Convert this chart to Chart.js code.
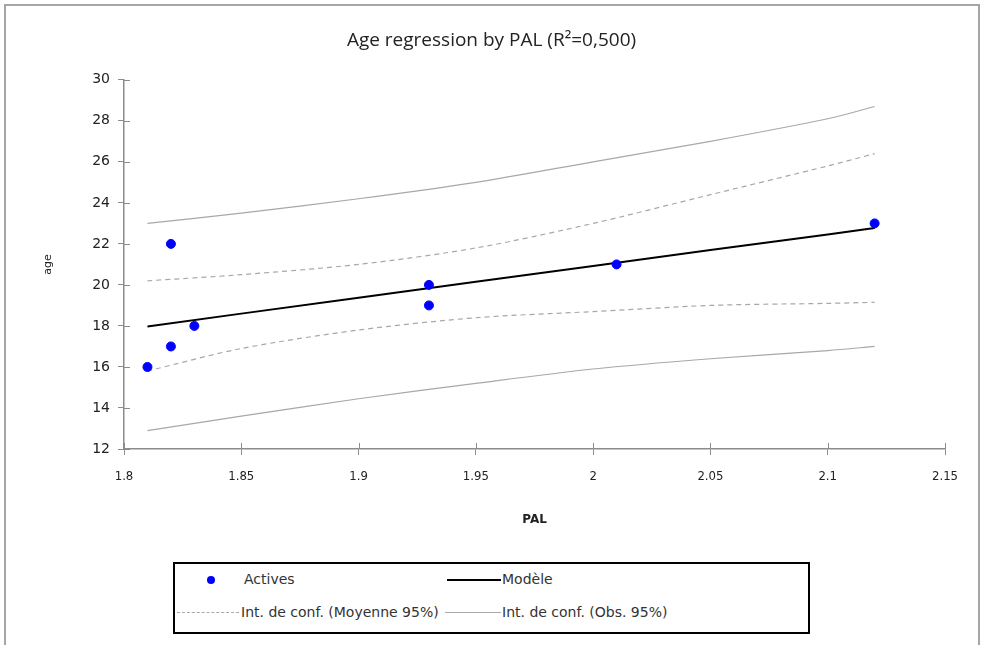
<!DOCTYPE html>
<html>
<head>
<meta charset="utf-8">
<script src="https://cdn.jsdelivr.net/npm/chart.js@4"></script>
<style>
html,body{margin:0;padding:0;background:#fff;overflow:hidden;}
#wrap{position:relative;width:984px;height:645px;}
#frame{position:absolute;left:4px;top:4px;width:972px;height:700px;border:2px solid #a6a6a6;border-bottom:none;}
#legend{position:absolute;left:173px;top:562px;width:633px;height:68px;border:2px solid #000;background:#fff;
  font-family:"DejaVu Sans",Verdana,sans-serif;font-size:14px;color:#333;}
.item{position:absolute;white-space:nowrap;line-height:16px;}
.sw{position:absolute;}
</style>
</head>
<body>
<div id="wrap">
<div id="frame"></div>
<canvas id="chart" width="984" height="645"></canvas>
<div id="legend">
  <div class="sw" style="left:32px;top:12px;width:8px;height:8px;border-radius:50%;background:#0000ff;"></div>
  <div class="item" style="left:69px;top:7px;">Actives</div>
  <div class="sw" style="left:272px;top:15px;width:54px;border-top:2px solid #000;"></div>
  <div class="item" style="left:327px;top:7px;">Modèle</div>
  <div class="sw" style="left:2px;top:48px;width:62px;border-top:1px dashed #aaa;"></div>
  <div class="item" style="left:66px;top:40px;">Int. de conf. (Moyenne 95%)</div>
  <div class="sw" style="left:270px;top:48px;width:56px;border-top:1px solid #aaa;"></div>
  <div class="item" style="left:327px;top:40px;">Int. de conf. (Obs. 95%)</div>
</div>
</div>
<script>
// observations
var pal=[1.81,1.82,1.82,1.83,1.93,1.93,2.01,2.12];
var age=[16,17,22,18,20,19,21,23];

// regression line + confidence bands
var curveX=[1.81,1.85,1.9,1.95,2.0,2.05,2.1,2.12];
var model=[17.97,18.6,19.37,20.15,20.92,21.7,22.46,22.77];
var meanHi=[20.2,20.5,21.0,21.8,23.0,24.4,25.8,26.4];
var meanLo=[15.8,16.9,17.8,18.4,18.7,19.0,19.1,19.15];
var obsHi=[23.0,23.5,24.2,25.0,26.0,27.0,28.1,28.7];
var obsLo=[12.9,13.6,14.45,15.2,15.9,16.4,16.8,17.0];

var xTicks=[1.8,1.85,1.9,1.95,2,2.05,2.1,2.15];

function pts(xs,ys){
    var out=[];
    for(var i=0;i<xs.length;i++){ out.push({x:xs[i],y:ys[i]}); }
    return out;
}

var axisGray='#8c8c8c';
var bandGray='#a8a8a8';

// tick marks that cross the axis line (inner half)
var innerTicks={
    id:'innerTicks',
    afterDraw:function(chart){
        var c=chart.ctx, xs=chart.scales.x, ys=chart.scales.y;
        c.save();
        c.strokeStyle=axisGray;
        c.lineWidth=1;
        c.beginPath();
        ys.ticks.forEach(function(t){
            var y=Math.round(ys.getPixelForValue(t.value))+0.5;
            c.moveTo(xs.left,y); c.lineTo(xs.left+6,y);
        });
        xs.ticks.forEach(function(t){
            var x=Math.round(xs.getPixelForValue(t.value))+0.5;
            c.moveTo(x,ys.bottom); c.lineTo(x,ys.bottom-6);
        });
        c.stroke();
        c.restore();
    }
};

var ctx=document.getElementById('chart').getContext('2d');
var myChart=new Chart(ctx,{
    type:'scatter',
    data:{
        datasets:[
            {label:'Actives',data:pts(pal,age),backgroundColor:'#0000ff',borderColor:'#0000ff',pointRadius:4.5,order:0},
            {label:'Modèle',type:'line',data:pts(curveX,model),borderColor:'#000',borderWidth:2,pointRadius:0,fill:false,order:1},
            {label:'Int. de conf. (Moyenne 95%)',type:'line',data:pts(curveX,meanHi),borderColor:bandGray,borderWidth:1.2,borderDash:[5,4],pointRadius:0,tension:0.3,fill:false,order:2},
            {label:'Int. de conf. (Moyenne 95%) low',type:'line',data:pts(curveX,meanLo),borderColor:bandGray,borderWidth:1.2,borderDash:[5,4],pointRadius:0,tension:0.3,fill:false,order:2},
            {label:'Int. de conf. (Obs. 95%)',type:'line',data:pts(curveX,obsHi),borderColor:bandGray,borderWidth:1.2,pointRadius:0,tension:0.3,fill:false,order:3},
            {label:'Int. de conf. (Obs. 95%) low',type:'line',data:pts(curveX,obsLo),borderColor:bandGray,borderWidth:1.2,pointRadius:0,tension:0.3,fill:false,order:3}
        ]
    },
    options:{
        responsive:false,
        animation:false,
        layout:{padding:{left:38,right:39,top:0,bottom:114}},
        plugins:{
            legend:{display:false},
            tooltip:{enabled:false},
            title:{display:true,text:'Age regression by PAL (R²=0,500)',color:'#222',
                font:{family:'"Open Sans","Noto Sans",sans-serif',size:19,weight:'normal'},
                padding:{top:29,bottom:28}}
        },
        scales:{
            x:{
                type:'linear',min:1.8,max:2.15,
                afterBuildTicks:function(s){ s.ticks=xTicks.map(function(v){return {value:v};}); },
                afterFit:function(s){ s.height=82; },
                border:{color:axisGray,width:1.5},
                grid:{display:true,drawOnChartArea:false,color:axisGray,tickLength:6},
                ticks:{color:'#222',padding:14,maxRotation:0,
                    font:{family:'"DejaVu Sans Condensed","DejaVu Sans",sans-serif',size:13},
                    callback:function(v){return String(v);}},
                title:{display:true,text:'PAL',color:'#222',padding:{top:22},
                    font:{family:'"DejaVu Sans",sans-serif',size:12,weight:'bold'}}
            },
            y:{
                min:12,max:30,
                afterFit:function(s){ s.width=86; },
                border:{color:axisGray,width:1.5},
                grid:{display:true,drawOnChartArea:false,color:axisGray,tickLength:6},
                ticks:{stepSize:2,color:'#222',padding:8,
                    font:{family:'"DejaVu Sans",sans-serif',size:14}},
                title:{display:true,text:'age',color:'#222',padding:{bottom:30},
                    font:{family:'"DejaVu Sans",sans-serif',size:11}}
            }
        }
    },
    plugins:[innerTicks]
});
</script>
</body>
</html>
